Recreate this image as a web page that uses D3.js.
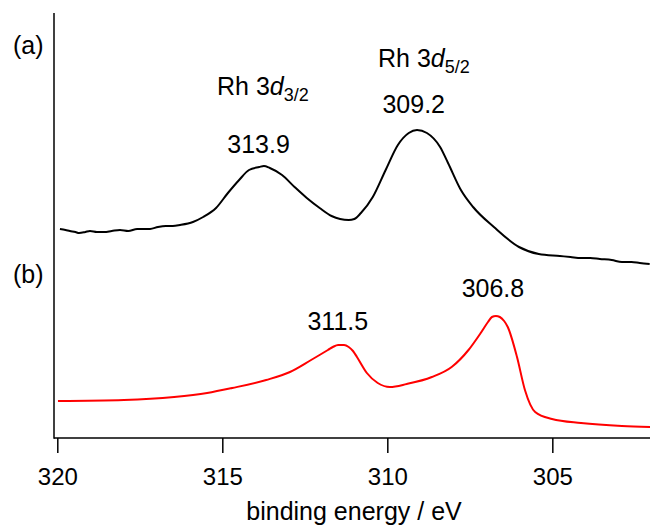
<!DOCTYPE html>
<head>
    <style type="text/css">
    body { margin: 0; background: white; }
    text { font-family: "Liberation Sans", Arial, Helvetica, sans-serif; fill: black; }
    </style>
</head>
<body>
    <meta charset="utf-8">
    <div id="my_dataviz"></div>

    <script src="https://d3js.org/d3.v7.min.js"></script>
    <script type="text/javascript">

    // spectrum (a): binding energy (eV) and intensity (arb. units)
    var energyA = [319.92, 319.75, 319.62, 319.45, 319.34, 319.15, 319.01, 318.80, 318.58, 318.35,
                   318.10, 317.85, 317.58, 317.19, 316.95, 316.71, 316.50, 316.28,
                   315.89, 315.58, 315.19, 314.83, 314.49, 314.19, 313.88, 313.74, 313.56, 313.19,
                   312.81, 312.44, 312.05, 311.69, 311.17, 311.00, 310.80, 310.44, 310.05, 309.68,
                   309.35, 309.10, 308.80, 308.40, 308.16, 307.77, 307.40, 306.77, 306.01, 305.41,
                   304.77, 304.45, 304.13, 303.85, 303.56, 303.20, 302.89, 302.60, 302.35, 302.05];
    var intensityA = [209, 208, 207, 206, 205, 206, 207, 206, 206, 207,
                      208, 207, 209, 209, 211, 212, 212, 213,
                      216, 221, 230, 245, 258, 268, 271, 272, 270, 263,
                      251, 240, 230, 222, 218, 219, 225, 241, 268, 293,
                      305, 308, 305, 291, 275, 248, 231, 211, 191, 184,
                      182, 181, 180, 180, 179, 178, 176, 176, 175, 174];

    // spectrum (b)
    var energyB = [319.98, 317.98, 316.46, 315.46, 314.70, 313.67, 312.95, 312.31, 311.80, 311.65,
                   311.49, 311.31, 311.17, 311.04, 310.92, 310.62, 310.29, 309.92, 309.41, 308.65,
                   308.05, 307.54, 307.17, 306.95, 306.83, 306.71, 306.59, 306.46, 306.35, 306.07,
                   305.83, 305.52, 305.01, 304.13, 302.89, 302.04];
    var intensityB = [37, 38, 41, 45, 50, 58, 66, 78, 88, 91,
                      93, 93, 91, 87, 81, 65, 55, 51, 54, 61,
                      71, 88, 105, 116, 121, 122, 121, 117, 111, 81,
                      48, 26, 19, 15, 12, 11];

    var xTicks = [320, 315, 310, 305];

    // peak labels
    var peakLabels = ["313.9", "309.2", "311.5", "306.8"];
    var peakEnergy = [313.9, 309.2, 311.5, 306.8];
    var peakLabelLevel = [285, 325, 108, 141];

    var width = 650, height = 529;

    var svg = d3.select("#my_dataviz")
      .append("svg")
        .attr("width", width)
        .attr("height", height);

    var x = d3.scaleLinear()
      .domain([320, 302.04])
      .range([57.3, 650]);

    var y = d3.scaleLinear()
      .domain([0, 425])
      .range([438, 13]);

    // X axis
    var gx = svg.append("g")
      .attr("transform", "translate(0,438)")
      .call(d3.axisBottom(x).tickValues(xTicks).tickSize(15).tickSizeOuter(0));
    gx.select(".domain").remove();
    gx.selectAll(".tick line").attr("stroke", "black").attr("stroke-width", 1.5);
    gx.selectAll(".tick text")
      .attr("y", 47).attr("dy", 0)
      .style("font-size", "24px")
      .style("font-family", null);

    svg.append("line")
      .attr("x1", 54).attr("x2", 650)
      .attr("y1", 438).attr("y2", 438)
      .attr("stroke", "black").attr("stroke-width", 1.5);

    // Y axis, no ticks
    svg.append("line")
      .attr("x1", 54).attr("x2", 54)
      .attr("y1", y(425)).attr("y2", 438.75)
      .attr("stroke", "black").attr("stroke-width", 1.5);

    svg.append("text")
      .attr("x", 354).attr("y", 520)
      .attr("text-anchor", "middle")
      .style("font-size", "25px")
      .text("binding energy / eV");

    var line = d3.line()
      .x(function (d) { return x(d[0]); })
      .y(function (d) { return y(d[1]); })
      .curve(d3.curveMonotoneX);

    svg.append("path")
      .datum(d3.zip(energyA, intensityA))
      .attr("fill", "none")
      .attr("stroke", "black")
      .attr("stroke-width", 2)
      .attr("d", line);

    svg.append("path")
      .datum(d3.zip(energyB, intensityB))
      .attr("fill", "none")
      .attr("stroke", "#ff0000")
      .attr("stroke-width", 2)
      .attr("d", line);

    // panel tags
    svg.append("text").attr("x", 13).attr("y", 54).style("font-size", "25px").text("(a)");
    svg.append("text").attr("x", 13).attr("y", 283).style("font-size", "25px").text("(b)");

    // peak positions
    svg.selectAll(".peak")
      .data(peakLabels)
      .enter()
      .append("text")
        .attr("class", "peak")
        .attr("x", function (d, i) { return x(peakEnergy[i]); })
        .attr("y", function (d, i) { return y(peakLabelLevel[i]); })
        .attr("text-anchor", "middle")
        .style("font-size", "25px")
        .text(function (d) { return d; });

    // Rh 3d labels
    function rhLabel(xx, yy, sub) {
      var t = svg.append("text").attr("x", xx).attr("y", yy).style("font-size", "25px");
      t.append("tspan").text("Rh 3");
      t.append("tspan").style("font-style", "italic").text("d");
      t.append("tspan").attr("dy", 6).style("font-size", "18px").text(sub);
    }
    rhLabel(217, 95, "3/2");
    rhLabel(378, 67, "5/2");

    </script>
</body>
